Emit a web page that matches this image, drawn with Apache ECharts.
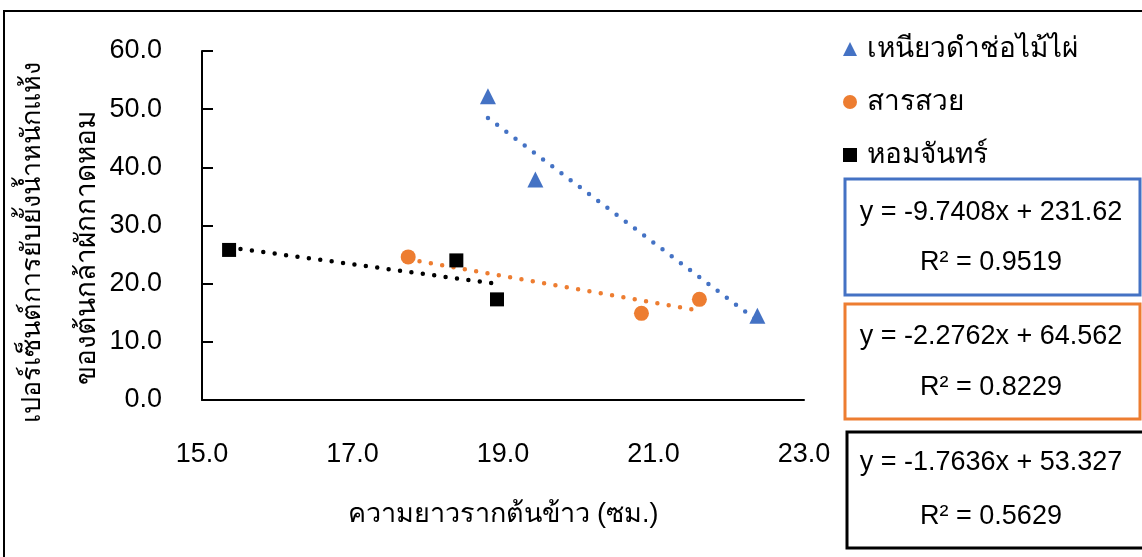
<!DOCTYPE html>
<html>
<head>
<meta charset="utf-8">
<script src="https://cdn.jsdelivr.net/npm/echarts@6/dist/echarts.min.js"></script>
<style>
  html, body { margin: 0; padding: 0; background: #fff; }
  #chart { width: 1142px; height: 557px; }
</style>
</head>
<body>
<div id="chart"></div>
<script>
// Rice root length (cm) vs. % inhibition of lettuce seedling dry weight
const seriesNames = ['เหนียวดำช่อไม้ไผ่', 'สารสวย', 'หอมจันทร์'];
const seriesColors = ['#4472C4', '#ED7D31', '#000000'];
const seriesSymbols = ['triangle', 'circle', 'rect'];

const blueX = [18.8, 19.43, 22.38];
const blueY = [52.2, 37.9, 14.5];
const orangeX = [17.74, 20.84, 21.61];
const orangeY = [24.6, 14.9, 17.3];
const blackX = [15.36, 18.38, 18.92];
const blackY = [25.8, 24.0, 17.3];

// linear trendline coefficients (y = slope * x + intercept) and R²
const slopes = [-9.7408, -2.2762, -1.7636];
const intercepts = [231.62, 64.562, 53.327];
const rSquared = ['0.9519', '0.8229', '0.5629'];

const xTicks = [15, 17, 19, 21, 23];
const yTicks = [0, 10, 20, 30, 40, 50, 60];

const xTitle = 'ความยาวรากต้นข้าว (ซม.)';
const yTitle1 = 'เปอร์เซ็นต์การยับยั้งน้ำหนักแห้ง';
const yTitle2 = 'ของต้นกล้าผักกาดหอม';

const FONT = '"Liberation Sans", Arial, "DejaVu Sans", sans-serif';

const xs = [blueX, orangeX, blackX];
const ys = [blueY, orangeY, blackY];

function pairs(a, b) { return a.map((v, i) => [v, b[i]]); }

function trend(i) {
  const lo = Math.min.apply(null, xs[i]);
  const hi = Math.max.apply(null, xs[i]);
  return [[lo, slopes[i] * lo + intercepts[i]], [hi, slopes[i] * hi + intercepts[i]]];
}

function eqText(i) {
  const b = intercepts[i];
  return 'y = ' + slopes[i].toFixed(4) + 'x ' + (b >= 0 ? '+ ' : '- ') + Math.abs(b);
}

const series = [];
seriesNames.forEach((name, i) => {
  series.push({
    name: name + ' trend',
    type: 'line',
    data: trend(i),
    symbol: 'none',
    silent: true,
    z: 2,
    lineStyle: { color: seriesColors[i], width: 4.5, type: [0, 11.5], cap: 'round' }
  });
});
seriesNames.forEach((name, i) => {
  series.push({
    name: name,
    type: 'scatter',
    data: pairs(xs[i], ys[i]),
    symbol: seriesSymbols[i],
    symbolSize: i === 0 ? 16 : (i === 1 ? 15 : 14),
    itemStyle: { color: seriesColors[i], opacity: 1 },
    z: 5
  });
});

// equation boxes on the right
const boxes = [
  { x: 845, y: 179, w: 295, h: 116, l1: 213, l2: 263 },
  { x: 845, y: 304, w: 295, h: 115, l1: 337, l2: 388 },
  { x: 847, y: 432, w: 298, h: 116, l1: 463, l2: 517 }
];
const graphics = [
  { type: 'rect', shape: { x: 4, y: 11, width: 1160, height: 580 },
    style: { fill: 'none', stroke: '#000', lineWidth: 2 }, z: 0 },
  { type: 'text', x: 33, y: 242, rotation: Math.PI / 2,
    style: { text: yTitle1, font: '27px ' + FONT, fill: '#000', align: 'center', verticalAlign: 'middle' } },
  { type: 'text', x: 87, y: 248, rotation: Math.PI / 2,
    style: { text: yTitle2, font: '28px ' + FONT, fill: '#000', align: 'center', verticalAlign: 'middle' } }
];
boxes.forEach((b, i) => {
  graphics.push({ type: 'rect', shape: { x: b.x, y: b.y, width: b.w, height: b.h },
    style: { fill: '#fff', stroke: seriesColors[i], lineWidth: 3 }, z: 10 });
  graphics.push({ type: 'text', x: 991, y: b.l1, z: 11,
    style: { text: eqText(i), font: '27px ' + FONT, fill: '#000', align: 'center', verticalAlign: 'middle' } });
  graphics.push({ type: 'text', x: 991, y: b.l2, z: 11,
    style: { text: 'R² = ' + rSquared[i], font: '27px ' + FONT, fill: '#000', align: 'center', verticalAlign: 'middle' } });
});

const chart = echarts.init(document.getElementById('chart'), null, { renderer: 'canvas' });
chart.setOption({
  animation: false,
  backgroundColor: '#fff',
  grid: { left: 202, top: 51, width: 602, height: 349, containLabel: false },
  legend: {
    data: seriesNames,
    orient: 'vertical',
    left: 838,
    top: 29,
    itemGap: 23,
    itemWidth: 14,
    itemHeight: 14,
    textStyle: { fontSize: 28, fontFamily: FONT, color: '#000', lineHeight: 30, padding: [0, 0, 0, 5] }
  },
  xAxis: {
    type: 'value',
    min: xTicks[0],
    max: xTicks[xTicks.length - 1],
    interval: 2,
    name: xTitle,
    nameLocation: 'middle',
    nameGap: 101,
    nameTextStyle: { fontSize: 27, fontFamily: FONT, color: '#000' },
    axisLine: { show: true, lineStyle: { color: '#000', width: 2 } },
    axisTick: { show: false },
    splitLine: { show: false },
    axisLabel: { fontSize: 27, fontFamily: FONT, color: '#000', margin: 41,
      formatter: v => v.toFixed(1) }
  },
  yAxis: {
    type: 'value',
    min: yTicks[0],
    max: yTicks[yTicks.length - 1],
    interval: 10,
    axisLine: { show: true, lineStyle: { color: '#000', width: 2 } },
    axisTick: { show: true, inside: true, length: 11, lineStyle: { color: '#000', width: 2 } },
    splitLine: { show: false },
    axisLabel: { fontSize: 27, fontFamily: FONT, color: '#000', margin: 40,
      formatter: v => v.toFixed(1) }
  },
  graphic: graphics,
  series: series
});
</script>
</body>
</html>
